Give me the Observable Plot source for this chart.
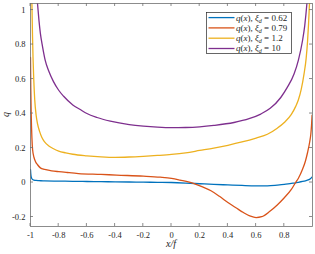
<!DOCTYPE html>
<html><head><meta charset="utf-8">
<script src="https://cdn.jsdelivr.net/npm/d3@7"></script>
<script src="https://cdn.jsdelivr.net/npm/@observablehq/plot@0.6"></script>
<style>
html,body{margin:0;padding:0;background:#fff;}
#wrap{position:relative;width:315px;height:254px;}
#legend{position:absolute;left:206px;top:12px;}
</style></head><body><div id="wrap"><div id="legend"></div></div>
<script>
const seriesNames = ["0.62", "0.79", "1.2", "10"];
const seriesColors = ["#0072BD", "#D95319", "#EDB120", "#7E2F8E"];
const xTicks = [-1, -0.8, -0.6, -0.4, -0.2, 0, 0.2, 0.4, 0.6, 0.8];
const yTicks = [-0.2, 0, 0.2, 0.4, 0.6, 0.8, 1];
const xDomain = [-1, 1];
const yDomain = [-0.255, 1.038];

const xBlue = [-1, -0.998, -0.995, -0.99, -0.985, -0.975, -0.96, -0.94, -0.9, -0.8, -0.7, -0.6, -0.5, -0.4, -0.3, -0.2, -0.1, 0, 0.1, 0.2, 0.3, 0.4, 0.5, 0.6, 0.68, 0.75, 0.8, 0.85, 0.88, 0.9, 0.93, 0.95, 0.97, 0.985, 1];
const qBlue = [0.075, 0.05, 0.032, 0.022, 0.017, 0.014, 0.012, 0.011, 0.009, 0.008, 0.007, 0.006, 0.005, 0.004, 0.003, 0.002, 0.001, 0.0, -0.003, -0.007, -0.011, -0.014, -0.017, -0.019, -0.019, -0.015, -0.011, -0.005, -0.002, 0.001, 0.006, 0.01, 0.015, 0.022, 0.034];

const xOrange = [-1, -0.998, -0.995, -0.99, -0.985, -0.975, -0.965, -0.95, -0.93, -0.9, -0.85, -0.8, -0.74, -0.66, -0.5, -0.39, -0.2, -0.08, 0, 0.06, 0.16, 0.22, 0.28, 0.34, 0.4, 0.46, 0.51, 0.56, 0.6, 0.64, 0.7, 0.75, 0.8, 0.85, 0.88, 0.9, 0.93, 0.95, 0.965, 0.98, 0.988, 0.993, 0.997];
const qOrange = [0.725, 0.55, 0.4, 0.26, 0.19, 0.145, 0.122, 0.103, 0.085, 0.076, 0.068, 0.063, 0.058, 0.052, 0.047, 0.043, 0.037, 0.031, 0.024, 0.014, -0.006, -0.025, -0.048, -0.08, -0.116, -0.148, -0.174, -0.195, -0.203, -0.198, -0.165, -0.13, -0.088, -0.04, 0, 0.025, 0.078, 0.125, 0.174, 0.235, 0.28, 0.33, 0.39];

const xYellow = [-0.994, -0.99, -0.986, -0.982, -0.977, -0.97, -0.96, -0.95, -0.935, -0.92, -0.9, -0.87, -0.84, -0.8, -0.75, -0.7, -0.6, -0.5, -0.4, -0.3, -0.2, -0.1, 0, 0.1, 0.2, 0.3, 0.4, 0.5, 0.6, 0.68, 0.75, 0.8, 0.85, 0.88, 0.9, 0.92, 0.94, 0.955, 0.965, 0.972, 0.978, 0.984];
const qYellow = [1.2, 1.04, 0.86, 0.72, 0.6, 0.48, 0.39, 0.34, 0.295, 0.262, 0.235, 0.212, 0.197, 0.182, 0.172, 0.164, 0.155, 0.149, 0.146, 0.148, 0.152, 0.157, 0.163, 0.172, 0.186, 0.2, 0.216, 0.235, 0.258, 0.28, 0.315, 0.348, 0.395, 0.44, 0.48, 0.54, 0.63, 0.72, 0.82, 0.92, 1.03, 1.2];

const xPurple = [-0.958, -0.95, -0.94, -0.93, -0.915, -0.896, -0.87, -0.837, -0.8, -0.765, -0.7, -0.647, -0.6, -0.528, -0.434, -0.3, -0.2, -0.1, 0, 0.1, 0.2, 0.3, 0.443, 0.55, 0.633, 0.7, 0.775, 0.82, 0.869, 0.9, 0.929, 0.945, 0.96, 0.968];
const qPurple = [1.12, 1.035, 0.94, 0.865, 0.79, 0.71, 0.645, 0.585, 0.535, 0.5, 0.45, 0.423, 0.4, 0.377, 0.356, 0.336, 0.327, 0.321, 0.318, 0.319, 0.323, 0.331, 0.348, 0.37, 0.397, 0.43, 0.493, 0.55, 0.629, 0.71, 0.822, 0.91, 1.035, 1.12];

const seriesX = [xBlue, xOrange, xYellow, xPurple];
const seriesQ = [qBlue, qOrange, qYellow, qPurple];
const rows = seriesNames.flatMap((s, i) => seriesX[i].map((x, j) => ({s, x, q: seriesQ[i][j]})));

const font = "'Liberation Serif', 'DejaVu Serif', serif";
const axisColor = "#262626";
const frameColor = "#707070";

const plot = Plot.plot({
  width: 315, height: 254,
  marginLeft: 30, marginRight: 3, marginTop: 3, marginBottom: 28,
  style: {fontFamily: font, fontSize: "8.5px", background: "white", color: axisColor},
  x: {domain: xDomain, label: null},
  y: {domain: yDomain, label: null},
  color: {domain: seriesNames, range: seriesColors},
  marks: [
    Plot.axisX({ticks: xTicks, tickSize: 0, tickPadding: 5, tickFormat: d => String(d), label: null}),
    Plot.axisY({ticks: yTicks, tickSize: 0, tickPadding: 5, tickFormat: d => String(d), label: null}),
    Plot.line(rows, {x: "x", y: "q", z: "s", stroke: "s", strokeWidth: 1.3, curve: "monotone-x", clip: true}),
    Plot.frame({stroke: frameColor, strokeWidth: 0.8})
  ]
});

const sx = plot.scale("x"), sy = plot.scale("y");
const svg = d3.select(plot);
const [xl, xr] = sx.range;
const [yb, yt] = sy.range;
const tg = svg.append("g").attr("stroke", frameColor).attr("stroke-width", 0.8);
for (const v of xTicks) {
  const px = sx.apply(v);
  tg.append("line").attr("x1", px).attr("x2", px).attr("y1", yb).attr("y2", yb - 3);
  tg.append("line").attr("x1", px).attr("x2", px).attr("y1", yt).attr("y2", yt + 3);
}
for (const v of yTicks) {
  const py = sy.apply(v);
  tg.append("line").attr("x1", xl).attr("x2", xl + 3).attr("y1", py).attr("y2", py);
  tg.append("line").attr("x1", xr).attr("x2", xr - 3).attr("y1", py).attr("y2", py);
}
svg.append("text").attr("x", (xl + xr) / 2).attr("y", 247).attr("text-anchor", "middle")
  .attr("font-style", "italic").attr("font-size", 10).attr("fill", axisColor).text("x/f");
svg.append("text").attr("transform", `translate(9,${(yb + yt) / 2}) rotate(-90)`).attr("text-anchor", "middle")
  .attr("font-style", "italic").attr("font-size", 10).attr("fill", axisColor).text("q");

document.getElementById("wrap").prepend(plot);

// legend
const lg = d3.select("#legend").append("svg").attr("width", 86).attr("height", 42)
  .style("font-family", font).style("font-size", "9px");
lg.append("rect").attr("x", 0.5).attr("y", 0.5).attr("width", 85).attr("height", 41)
  .attr("fill", "white").attr("stroke", "#262626").attr("stroke-width", 0.7);
seriesNames.forEach((name, i) => {
  const cy = 5.6 + i * 10.3;
  lg.append("line").attr("x1", 2.5).attr("x2", 28.5).attr("y1", cy).attr("y2", cy)
    .attr("stroke", seriesColors[i]).attr("stroke-width", 1.3);
  const t = lg.append("text").attr("x", 30).attr("y", cy).attr("dy", "0.33em").attr("fill", axisColor);
  t.append("tspan").attr("font-style", "italic").text("q");
  t.append("tspan").text("(");
  t.append("tspan").attr("font-style", "italic").text("x");
  t.append("tspan").text("),  ");
  t.append("tspan").attr("font-style", "italic").text("ξ");
  t.append("tspan").attr("font-style", "italic").attr("font-size", "6px").attr("dy", "2").text("d");
  t.append("tspan").attr("dy", "-2").text(" = " + name);
});
</script></body></html>
